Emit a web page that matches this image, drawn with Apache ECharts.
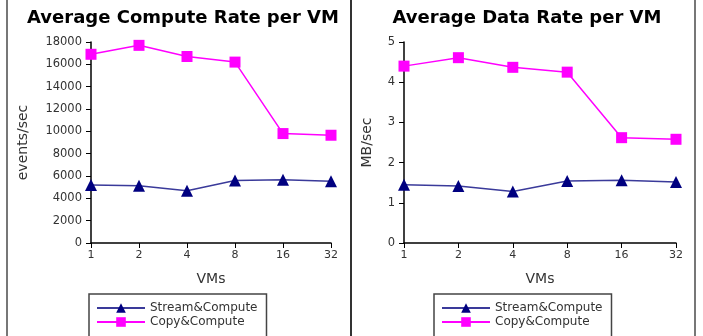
<!DOCTYPE html>
<html>
<head>
<meta charset="utf-8">
<script src="https://cdn.jsdelivr.net/npm/echarts@6/dist/echarts.min.js"></script>
<style>
  html, body { margin: 0; padding: 0; background: #fff; }
  #chart { width: 703px; height: 336px; }
</style>
</head>
<body>
<div id="chart"></div>
<script>
// VMs on the x axis (log2 spaced, drawn as categories)
var vms = ['1', '2', '4', '8', '16', '32'];

// Average compute rate per VM (events/sec)
var computeStream = [5200, 5120, 4680, 5600, 5660, 5520];
var computeCopy = [16900, 17700, 16700, 16200, 9800, 9650];

// Average data rate per VM (MB/sec)
var dataStream = [1.45, 1.42, 1.28, 1.54, 1.56, 1.52];
var dataCopy = [4.40, 4.61, 4.37, 4.25, 2.62, 2.58];

var chart = echarts.init(document.getElementById('chart'));

var font = 'DejaVu Sans';
var navy = '#000080';
var magenta = '#ff00ff';

function xAxisFor(gridIndex) {
    return {
        type: 'category',
        gridIndex: gridIndex,
        data: vms,
        boundaryGap: false,
        name: 'VMs',
        nameLocation: 'middle',
        nameGap: 29,
        nameTextStyle: { fontFamily: font, fontSize: 14, color: '#333' },
        axisLine: { lineStyle: { color: '#000', width: 1.5 } },
        axisTick: { alignWithLabel: true, length: 5, lineStyle: { color: '#000' } },
        axisLabel: { fontFamily: font, fontSize: 11, color: '#333', margin: 7 },
        splitLine: { show: false }
    };
}

function yAxisFor(gridIndex, name, max, interval, gap) {
    return {
        type: 'value',
        gridIndex: gridIndex,
        min: 0,
        max: max,
        interval: interval,
        name: name,
        nameLocation: 'middle',
        nameGap: gap,
        nameTextStyle: { fontFamily: font, fontSize: 14, color: '#333' },
        axisLine: { show: true, lineStyle: { color: '#000', width: 1.5 } },
        axisTick: { show: true, length: 5, lineStyle: { color: '#000' } },
        axisLabel: {
            fontFamily: font, fontSize: 11.5, color: '#333', margin: 9,
            formatter: function (v) { return String(v); }
        },
        splitLine: { show: false }
    };
}

function streamSeries(idx, data) {
    return {
        name: 'Stream&Compute',
        type: 'line',
        xAxisIndex: idx,
        yAxisIndex: idx,
        data: data,
        symbol: 'triangle',
        symbolSize: 12,
        lineStyle: { color: '#3a3a9a', width: 1.5 },
        itemStyle: { color: navy },
        z: 3
    };
}

function copySeries(idx, data) {
    return {
        name: 'Copy&Compute',
        type: 'line',
        xAxisIndex: idx,
        yAxisIndex: idx,
        data: data,
        symbol: 'rect',
        symbolSize: 11,
        lineStyle: { color: magenta, width: 1.5 },
        itemStyle: { color: magenta },
        z: 3
    };
}

function legendAt(left) {
    return {
        orient: 'vertical',
        left: left,
        top: 294,
        height: 60,
        padding: [8, 9, 30, 7],
        borderColor: '#444',
        borderWidth: 1.5,
        itemGap: 2,
        itemWidth: 48,
        itemHeight: 12,
        textStyle: { fontFamily: font, fontSize: 12, color: '#333' },
        data: ['Stream&Compute', 'Copy&Compute']
    };
}

chart.setOption({
    animation: false,
    title: [
        {
            text: 'Average Compute Rate per VM',
            left: 178, top: 4, textAlign: 'center',
            textStyle: { fontFamily: font, fontSize: 18, fontWeight: 'bold', color: '#000' }
        },
        {
            text: 'Average Data Rate per VM',
            left: 522, top: 4, textAlign: 'center',
            textStyle: { fontFamily: font, fontSize: 18, fontWeight: 'bold', color: '#000' }
        }
    ],
    legend: [legendAt(89), legendAt(434)],
    grid: [
        { left: 91, top: 42, width: 240, height: 201 },
        { left: 404, top: 42, width: 272, height: 201 }
    ],
    xAxis: [xAxisFor(0), xAxisFor(1)],
    yAxis: [
        yAxisFor(0, 'events/sec', 18000, 2000, 61),
        yAxisFor(1, 'MB/sec', 5, 1, 30)
    ],
    series: [
        streamSeries(0, computeStream),
        copySeries(0, computeCopy),
        streamSeries(1, dataStream),
        copySeries(1, dataCopy)
    ],
    graphic: [
        { type: 'line', shape: { x1: 7, y1: 0, x2: 7, y2: 336 }, style: { stroke: '#777', lineWidth: 2 } },
        { type: 'line', shape: { x1: 351, y1: 0, x2: 351, y2: 336 }, style: { stroke: '#333', lineWidth: 2 } },
        { type: 'line', shape: { x1: 695, y1: 0, x2: 695, y2: 336 }, style: { stroke: '#777', lineWidth: 2 } }
    ]
});
</script>
</body>
</html>
